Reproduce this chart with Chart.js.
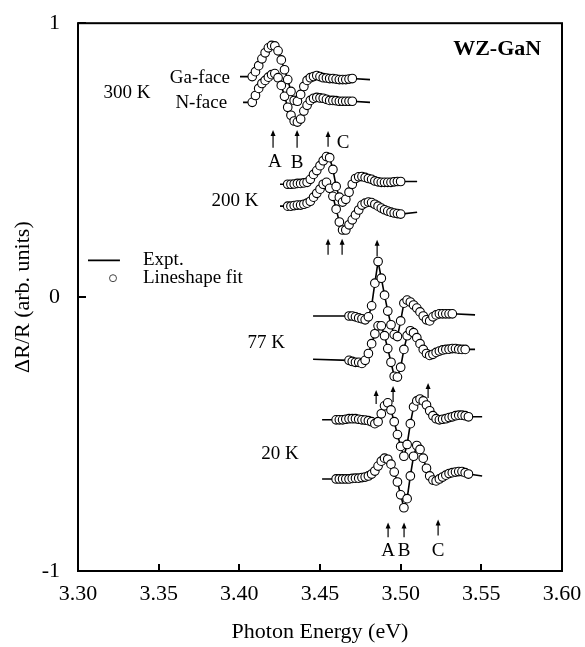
<!DOCTYPE html>
<html>
<head>
<meta charset="utf-8">
<script src="https://cdn.jsdelivr.net/npm/chart.js@4.4.0/dist/chart.umd.min.js"></script>
<style>
    html, body { margin: 0; padding: 0; background: #fff; }
    #grafico { display: block; }
</style>
</head>
<body>
<canvas id="grafico" width="585" height="647"></canvas>
<script>
// passo da grade de energia do ajuste (eV)
const passoEnergia = 0.002;

// 300 K (Ga-face em cima, N-face embaixo)
const inicio300 = 3.408;
const ajuste300Ga = [0.805, 0.823, 0.845, 0.870, 0.892, 0.910, 0.919, 0.917, 0.899, 0.866, 0.830, 0.794, 0.751, 0.718, 0.715, 0.740,
    0.769, 0.791, 0.801, 0.805, 0.809, 0.805, 0.801, 0.800, 0.798, 0.798, 0.796, 0.794, 0.794, 0.794, 0.796, 0.798];
const ajuste300N = [0.711, 0.736, 0.762, 0.780, 0.791, 0.803, 0.812, 0.816, 0.801, 0.773, 0.733, 0.693, 0.664, 0.643, 0.639, 0.650,
    0.679, 0.700, 0.718, 0.726, 0.729, 0.727, 0.726, 0.722, 0.718, 0.718, 0.717, 0.715, 0.715, 0.715, 0.715, 0.715];
const pontas300Ga = [[3.4004, 0.805], [3.4810, 0.794]];
const pontas300N = [[3.4023, 0.711], [3.4810, 0.711]];

// 200 K
const inicio200 = 3.430;
const ajuste200Ga = [0.412, 0.412, 0.413, 0.415, 0.415, 0.417, 0.419, 0.430, 0.448, 0.462, 0.480, 0.498, 0.513, 0.509, 0.466, 0.404,
    0.365, 0.347, 0.357, 0.383, 0.412, 0.433, 0.439, 0.440, 0.437, 0.433, 0.430, 0.424, 0.421, 0.419, 0.419, 0.419, 0.419, 0.421, 0.422, 0.422];
const ajuste200N = [0.332, 0.332, 0.334, 0.336, 0.336, 0.339, 0.343, 0.350, 0.365, 0.379, 0.394, 0.412, 0.419, 0.397, 0.368, 0.321,
    0.274, 0.245, 0.245, 0.264, 0.282, 0.300, 0.318, 0.336, 0.343, 0.347, 0.345, 0.339, 0.332, 0.325, 0.319, 0.314, 0.310, 0.307, 0.305, 0.303];
const pontas200Ga = [[3.4252, 0.412], [3.5102, 0.422]];
const pontas200N = [[3.4252, 0.332], [3.5102, 0.310]];

// 77 K
const inicio77 = 3.468;
const ajuste77Ga = [-0.069, -0.069, -0.072, -0.076, -0.079, -0.083, -0.072, -0.032, 0.051, 0.130, 0.069, 0.007, -0.051, -0.101, -0.137, -0.144,
    -0.087, -0.022, -0.011, -0.018, -0.029, -0.040, -0.054, -0.069, -0.083, -0.087, -0.072, -0.065, -0.061, -0.061, -0.061, -0.061, -0.061];
const ajuste77N = [-0.231, -0.235, -0.238, -0.238, -0.242, -0.231, -0.206, -0.170, -0.134, -0.105, -0.105, -0.141, -0.188, -0.238, -0.289, -0.292,
    -0.256, -0.191, -0.141, -0.123, -0.130, -0.148, -0.170, -0.191, -0.206, -0.213, -0.209, -0.202, -0.197, -0.193, -0.191, -0.190, -0.188, -0.188,
    -0.190, -0.191, -0.191];
const pontas77Ga = [[3.4457, -0.069], [3.5461, -0.065]];
const pontas77N = [[3.4457, -0.227], [3.5461, -0.191]];

// 20 K
const inicio20 = 3.460;
const ajuste20Ga = [-0.448, -0.448, -0.448, -0.446, -0.444, -0.444, -0.444, -0.446, -0.448, -0.449, -0.451, -0.455, -0.462, -0.455, -0.426, -0.397,
    -0.386, -0.412, -0.455, -0.502, -0.545, -0.581, -0.538, -0.462, -0.401, -0.379, -0.372, -0.379, -0.394, -0.415, -0.433, -0.444, -0.448, -0.446,
    -0.444, -0.440, -0.437, -0.433, -0.431, -0.431, -0.433, -0.437];
const ajuste20N = [-0.664, -0.664, -0.664, -0.664, -0.664, -0.662, -0.661, -0.661, -0.659, -0.657, -0.653, -0.646, -0.635, -0.617, -0.599, -0.588,
    -0.592, -0.610, -0.639, -0.675, -0.722, -0.769, -0.736, -0.653, -0.581, -0.542, -0.556, -0.588, -0.625, -0.653, -0.668, -0.671, -0.664, -0.657,
    -0.650, -0.644, -0.641, -0.639, -0.637, -0.637, -0.641, -0.646];
const pontas20Ga = [[3.4513, -0.448], [3.5505, -0.437]];
const pontas20N = [[3.4513, -0.664], [3.5505, -0.653]];

// setas das transições A, B, C (energia, base, ponta)
const setasE = [3.4209, 3.4358, 3.4550, 3.4550, 3.4637, 3.4854, 3.4848, 3.4953, 3.5170, 3.4922, 3.5021, 3.5232];
const setasBase = [0.545, 0.545, 0.549, 0.155, 0.155, 0.148, -0.390, -0.383, -0.368, -0.877, -0.877, -0.870];
const setasPonta = [0.610, 0.610, 0.606, 0.213, 0.213, 0.209, -0.339, -0.325, -0.314, -0.823, -0.823, -0.812];

// eixos
const ticksX = [3.30, 3.35, 3.40, 3.45, 3.50, 3.55, 3.60];
const ticksY = [-1, 0, 1];

// legenda
const legendaLinha = [[3.3062, 0.134], [3.3260, 0.134]];
const legendaCirculo = [[3.3217, 0.069]];

// textos soltos no gráfico
const rotulos = [
    { texto: "300 K", e: 3.3304, y: 0.744, alinhar: "center" },
    { texto: "Ga-face", e: 3.3942, y: 0.801, alinhar: "right" },
    { texto: "N-face", e: 3.3924, y: 0.708, alinhar: "right" },
    { texto: "A", e: 3.4220, y: 0.495, alinhar: "center" },
    { texto: "B", e: 3.4358, y: 0.491, alinhar: "center" },
    { texto: "C", e: 3.4643, y: 0.563, alinhar: "center" },
    { texto: "200 K", e: 3.3973, y: 0.350, alinhar: "center" },
    { texto: "77 K", e: 3.4166, y: -0.166, alinhar: "center" },
    { texto: "20 K", e: 3.4252, y: -0.574, alinhar: "center" },
    { texto: "A", e: 3.4922, y: -0.928, alinhar: "center" },
    { texto: "B", e: 3.5021, y: -0.928, alinhar: "center" },
    { texto: "C", e: 3.5232, y: -0.928, alinhar: "center" },
    { texto: "Expt.", e: 3.3403, y: 0.137, alinhar: "left" },
    { texto: "Lineshape fit", e: 3.3403, y: 0.069, alinhar: "left" },
    { texto: "WZ-GaN", e: 3.5598, y: 0.906, alinhar: "center", negrito: true }
];

const FONTE = '"Liberation Serif", "Times New Roman", serif';
Chart.defaults.font.family = FONTE;
Chart.defaults.color = "#000";

function pontosAjuste(inicio, valores) {
    return valores.map((v, i) => ({ x: +(inicio + i * passoEnergia).toFixed(4), y: v }));
}

function pontosLinha(pontas, ajuste) {
    // a curva experimental passa sob os círculos e sobra um pouco nas pontas
    return [{ x: pontas[0][0], y: pontas[0][1] }, ...ajuste, { x: pontas[1][0], y: pontas[1][1] }];
}

const curvas = [
    [inicio300, ajuste300Ga, pontas300Ga], [inicio300, ajuste300N, pontas300N],
    [inicio200, ajuste200Ga, pontas200Ga], [inicio200, ajuste200N, pontas200N],
    [inicio77, ajuste77Ga, pontas77Ga], [inicio77, ajuste77N, pontas77N],
    [inicio20, ajuste20Ga, pontas20Ga], [inicio20, ajuste20N, pontas20N]
];

const datasets = [];
curvas.forEach(([inicio, valores, pontas]) => {
    const ajuste = pontosAjuste(inicio, valores);
    datasets.push({
        data: ajuste, showLine: false, order: 1,
        pointRadius: 4.3, pointBorderWidth: 1.1,
        pointBackgroundColor: "#fff", pointBorderColor: "#000"
    });
    datasets.push({
        data: pontosLinha(pontas, ajuste), showLine: true, order: 2,
        borderColor: "#000", borderWidth: 1.6, pointRadius: 0, tension: 0
    });
});
datasets.push({
    data: legendaLinha.map(p => ({ x: p[0], y: p[1] })), showLine: true, order: 2,
    borderColor: "#000", borderWidth: 1.6, pointRadius: 0
});
datasets.push({
    data: legendaCirculo.map(p => ({ x: p[0], y: p[1] })), showLine: false, order: 1,
    pointRadius: 3.5, pointBorderWidth: 1, pointBackgroundColor: "#fff", pointBorderColor: "#444"
});

// moldura, ticks para dentro, setas e textos
const extras = {
    id: "extras",
    afterDatasetsDraw(chart) {
        const { ctx, chartArea: a, scales: { x, y } } = chart;
        ctx.save();
        ctx.strokeStyle = "#000";
        ctx.lineWidth = 2;
        ctx.strokeRect(a.left, a.top, a.right - a.left, a.bottom - a.top);

        ctx.beginPath();
        ticksX.forEach(t => {
            const px = Math.round(x.getPixelForValue(t));
            ctx.moveTo(px, a.bottom);
            ctx.lineTo(px, a.bottom - 7);
        });
        ticksY.forEach(t => {
            const py = Math.round(y.getPixelForValue(t));
            ctx.moveTo(a.left, py);
            ctx.lineTo(a.left + 8, py);
        });
        ctx.stroke();

        ctx.fillStyle = "#000";
        ctx.lineWidth = 1.2;
        setasE.forEach((e, i) => {
            const px = x.getPixelForValue(e);
            const pb = y.getPixelForValue(setasBase[i]);
            const pt = y.getPixelForValue(setasPonta[i]);
            ctx.beginPath();
            ctx.moveTo(px, pb);
            ctx.lineTo(px, pt + 4);
            ctx.stroke();
            ctx.beginPath();
            ctx.moveTo(px, pt);
            ctx.lineTo(px - 2.5, pt + 6);
            ctx.lineTo(px + 2.5, pt + 6);
            ctx.closePath();
            ctx.fill();
        });

        ctx.textBaseline = "middle";
        rotulos.forEach(r => {
            ctx.font = (r.negrito ? "bold 22px " : "19px ") + FONTE;
            ctx.textAlign = r.alinhar;
            ctx.fillText(r.texto, x.getPixelForValue(r.e), y.getPixelForValue(r.y));
        });
        ctx.restore();
    }
};

new Chart(document.getElementById("grafico"), {
    type: "scatter",
    data: { datasets },
    options: {
        responsive: false,
        animation: false,
        events: [],
        layout: { padding: { top: 17, right: 23, left: 0, bottom: 0 } },
        plugins: { legend: { display: false }, tooltip: { enabled: false } },
        scales: {
            x: {
                type: "linear", min: 3.30, max: 3.60,
                afterFit: s => { s.height = 76; },
                afterBuildTicks: s => { s.ticks = ticksX.map(v => ({ value: v })); },
                grid: { display: false },
                border: { display: false },
                ticks: {
                    color: "#000", padding: 2,
                    font: { family: FONTE, size: 22 },
                    callback: v => v.toFixed(2)
                },
                title: {
                    display: true, text: "Photon Energy (eV)", color: "#000",
                    font: { family: FONTE, size: 22 },
                    padding: { top: 0, bottom: 2 }
                }
            },
            y: {
                type: "linear", min: -1, max: 1,
                afterFit: s => { s.width = 78; },
                afterBuildTicks: s => { s.ticks = ticksY.map(v => ({ value: v })); },
                grid: { display: false },
                border: { display: false },
                ticks: {
                    color: "#000", padding: 10,
                    font: { family: FONTE, size: 22 },
                    callback: v => String(v)
                },
                title: {
                    display: true, text: "ΔR/R (arb. units)", color: "#000",
                    font: { family: FONTE, size: 22 },
                    padding: { top: 10, bottom: 0 }
                }
            }
        }
    },
    plugins: [extras]
});
</script>
</body>
</html>
